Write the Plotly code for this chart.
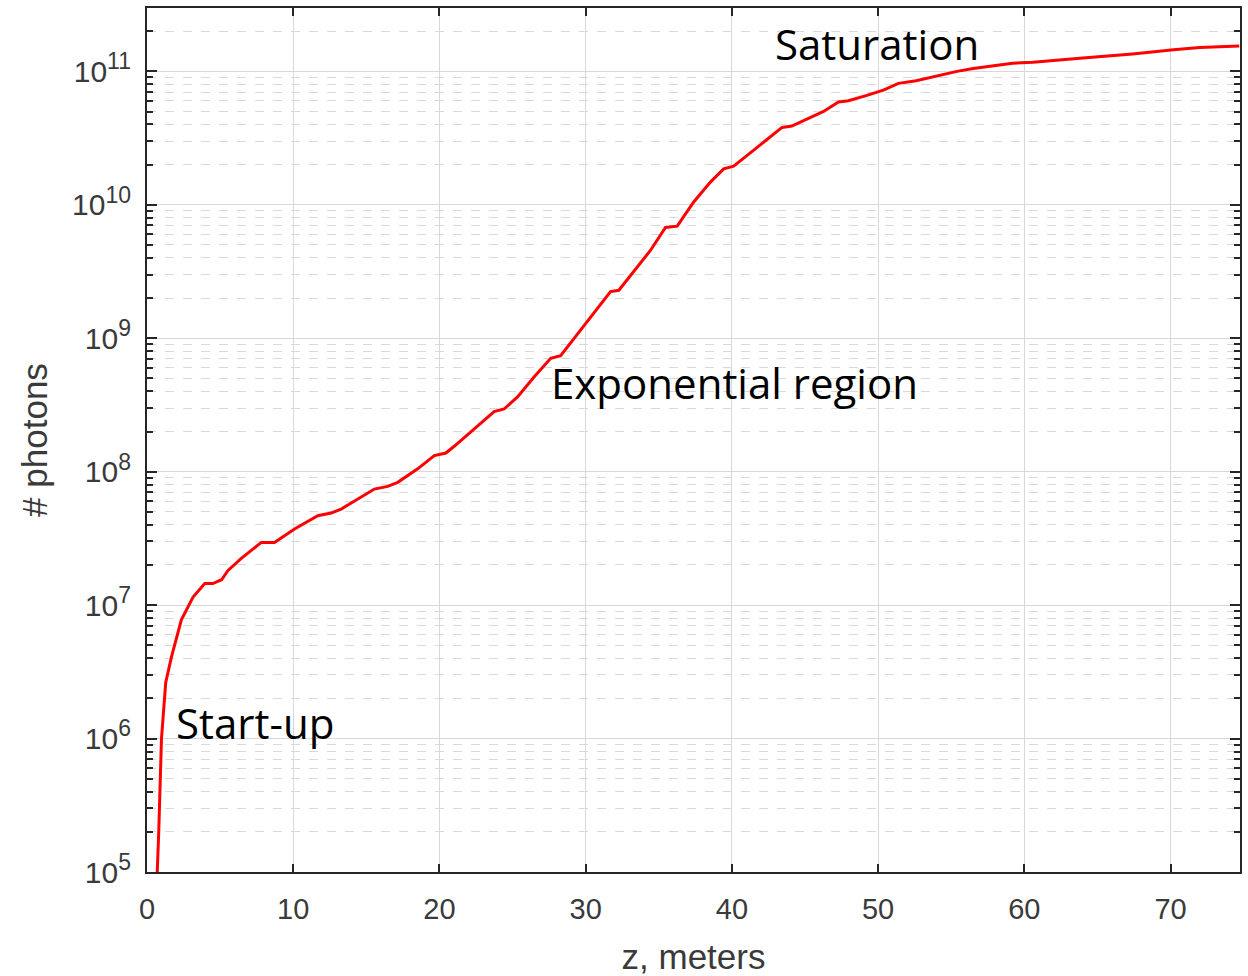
import math
import plotly.graph_objects as go

# Distance along the undulator (m)
z_m = [0.70, 0.80, 0.99, 1.28, 1.67, 2.35, 3.15, 3.95, 4.50, 5.10,
       5.54, 6.45, 7.82, 8.72, 10.09, 11.68, 12.59, 13.28, 15.55, 16.46,
       17.15, 18.51, 19.65, 20.44, 21.01, 22.38, 23.74, 24.42, 25.34, 26.47,
       27.61, 28.29, 29.20, 30.10, 31.00, 31.70, 32.27, 33.30, 34.44, 35.46,
       36.26, 37.39, 38.53, 39.44, 40.12, 41.26, 42.40, 43.43, 44.10, 45.13,
       46.27, 47.29, 47.97, 49.23, 50.36, 51.39, 52.60, 55.40, 56.50, 59.20,
       60.60, 64.00, 67.40, 70.20, 72.00, 74.70]

# Number of photons in the radiation pulse
photons = [1.0e5, 1.95e5, 1.0e6, 2.63e6, 4.07e6, 7.76e6, 1.15e7, 1.45e7, 1.45e7, 1.55e7,
           1.82e7, 2.24e7, 2.95e7, 2.95e7, 3.72e7, 4.68e7, 4.90e7, 5.25e7, 7.41e7, 7.76e7,
           8.32e7, 1.05e8, 1.32e8, 1.38e8, 1.55e8, 2.09e8, 2.82e8, 2.95e8, 3.63e8, 5.13e8,
           7.08e8, 7.41e8, 1.0e9, 1.32e9, 1.78e9, 2.24e9, 2.29e9, 3.16e9, 4.57e9, 6.76e9,
           6.92e9, 1.05e10, 1.48e10, 1.86e10, 1.95e10, 2.45e10, 3.09e10, 3.80e10, 3.89e10, 4.37e10,
           5.01e10, 5.89e10, 6.03e10, 6.61e10, 7.24e10, 8.13e10, 8.51e10, 1.0e11, 1.05e11, 1.15e11,
           1.17e11, 1.26e11, 1.35e11, 1.45e11, 1.51e11, 1.55e11]

x_ticks = [0, 10, 20, 30, 40, 50, 60, 70]
y_ticks = [1e5, 1e6, 1e7, 1e8, 1e9, 1e10, 1e11]
y_exponents = ["5", "6", "7", "8", "9", "10", "11"]

# Regime labels: (text, z, photons)
regimes = [("Saturation", 42.8, 1.62e11),
           ("Exponential region", 27.5, 4.7e8),
           ("Start-up", 1.85, 1.32e6)]

axis_color = "#262626"
label_color = "#3a3a3a"
sans = "Liberation Sans, Arial, sans-serif"
tick_font = dict(family=sans, size=30, color=label_color)

y_tick_labels = ["10<sup><span style='font-size:23px'>%s</span></sup>" % e for e in y_exponents]

fig = go.Figure()
fig.add_trace(go.Scatter(x=z_m, y=photons, mode="lines",
                         line=dict(color="#ff0000", width=3), showlegend=False))

# annotation coordinates on a log axis are given as log10 values
for text, zx, ny in regimes:
    fig.add_annotation(x=zx, y=math.log10(ny), text=text, showarrow=False,
                       xanchor="left", yanchor="middle",
                       font=dict(family="Open Sans, sans-serif", size=42, color="black"))

fig.update_layout(
    width=1248, height=976,
    margin=dict(l=147, r=8, t=8, b=104),
    paper_bgcolor="white", plot_bgcolor="white",
)

fig.update_xaxes(
    range=[0, 74.75], tickvals=x_ticks, ticktext=[str(v) for v in x_ticks],
    ticks="inside", ticklen=8, tickwidth=2, tickcolor=axis_color,
    showline=True, linecolor=axis_color, linewidth=2, mirror="ticks",
    showgrid=True, gridcolor="#d8d8d8", gridwidth=1, automargin=False,
    zeroline=False, tickfont=dict(family=sans, size=29, color=label_color),
    ticklabelstandoff=10,
    title=dict(text="z, meters", font=dict(family=sans, size=35, color=label_color),
               standoff=22),
)

fig.update_yaxes(
    type="log", range=[5, 11.475], tickvals=y_ticks, ticktext=y_tick_labels,
    ticks="inside", ticklen=10, tickwidth=2, tickcolor=axis_color,
    showline=True, linecolor=axis_color, linewidth=2, mirror="ticks",
    showgrid=True, gridcolor="#d8d8d8", gridwidth=1, automargin=False,
    zeroline=False, tickfont=tick_font, ticklabelstandoff=8,
    minor=dict(dtick="D1", ticks="inside", ticklen=6, tickwidth=2, tickcolor=axis_color,
               showgrid=True, gridcolor="#d9d9d9", griddash="dash", gridwidth=1),
    title=dict(text="# photons", font=dict(family=sans, size=35, color=label_color),
               standoff=14),
)

fig.write_html("out.html")
